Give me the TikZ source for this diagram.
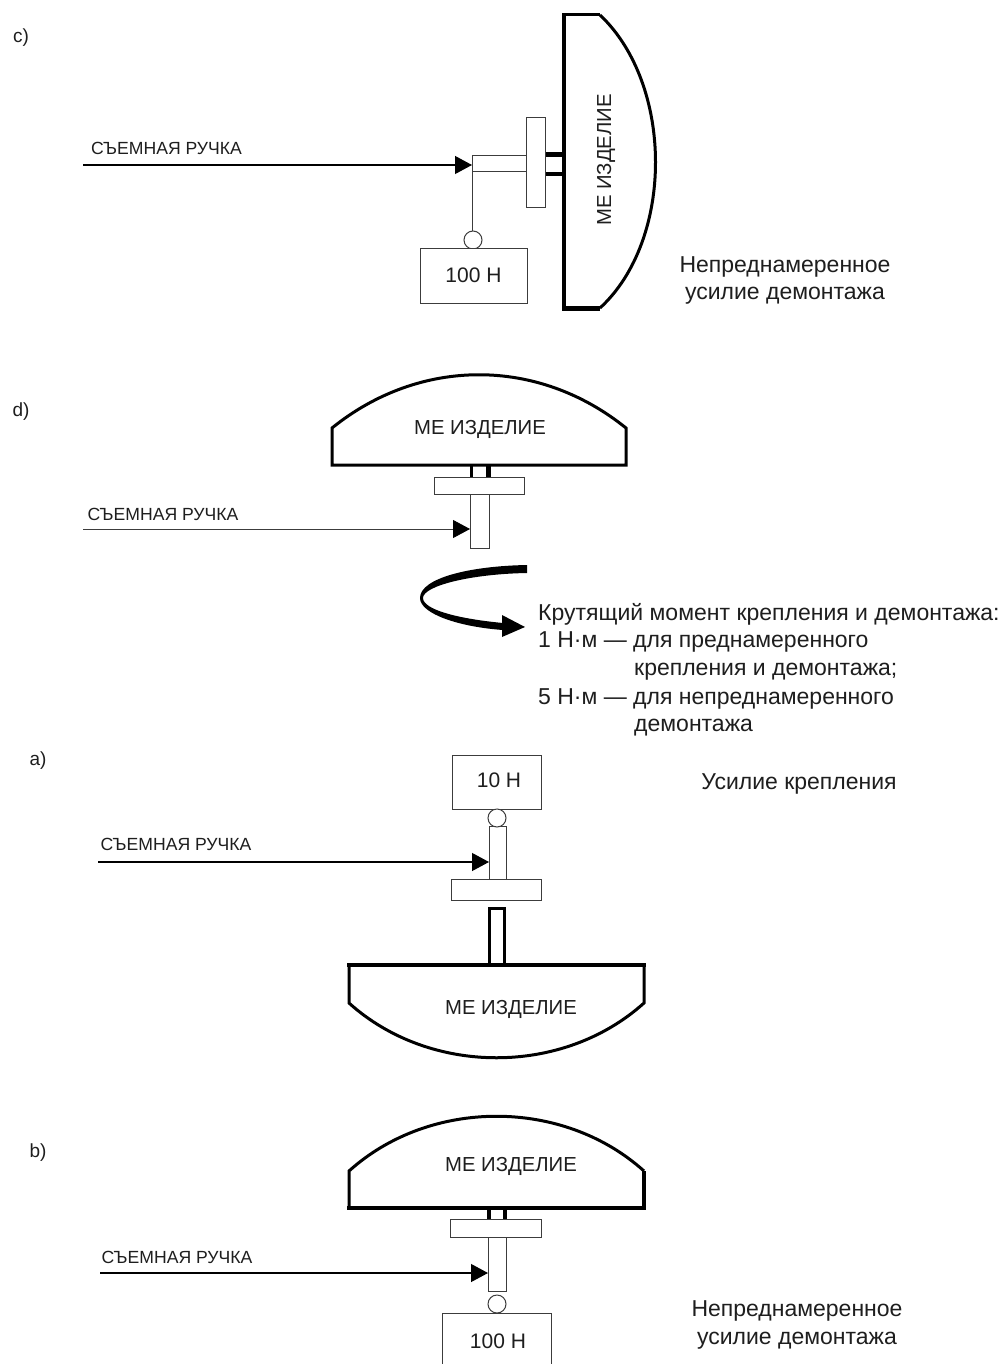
\documentclass[tikz,border=0pt]{standalone}
\usepackage{fontspec}
\setmainfont{Liberation Sans}
\usetikzlibrary{arrows.meta}
\definecolor{ink}{HTML}{1E1E1E}
\definecolor{soft}{HTML}{3C3C3C}
\tikzset{
  part/.style={draw=soft,line width=0.9pt,fill=white,inner sep=0pt,outer sep=0pt,text=ink,font=\fontsize{21}{24}\selectfont},
  hinge/.style={circle,draw=soft,line width=1pt,fill=white,minimum size=18pt,inner sep=0pt,outer sep=0pt},
  body/.style={draw=black,line width=3pt,line join=miter},
  heavy/.style={draw=black,line width=4.5pt},
  stub/.style={draw=black,line width=3pt},
  label/.style={text=ink,font=\fontsize{17.6}{20}\selectfont,inner sep=0pt},
  device/.style={text=ink,font=\fontsize{20.3}{24}\selectfont,inner sep=0pt},
  note/.style={text=ink,font=\fontsize{23}{26}\selectfont,inner sep=0pt},
  tag/.style={text=ink,font=\fontsize{19}{22}\selectfont,inner sep=0pt},
  pointer/.style={draw=black,line width=1.2pt,-{Triangle[length=17pt,width=18pt]}},
  pointerthin/.style={draw=soft,line width=0.8pt,-{Triangle[length=17pt,width=18pt,color=black,fill=black]}}
}
\begin{document}
\begin{tikzpicture}[x=1pt,y=-1pt]
\useasboundingbox (0,0) rectangle (1006,1364);
\fill[white] (0,0) rectangle (1006,1364);

% ---------- panel c
\node[tag] (tc) at (21,38) {c)};
\draw[line width=3pt] (600,15) .. controls (674,85) and (674,240) .. (600,308);
\draw[line width=3pt] (564,15) -- (600,15);
\draw[line width=5pt] (564,308) -- (600,308);
\draw[line width=4.5pt] (564,13.5) -- (564,310.5);
\draw[stub,line width=5pt] (545,154.5) -- (563,154.5);
\draw[stub,line width=4.5pt] (545,174) -- (563,174);
\node[part,minimum width=54pt,minimum height=16pt] (rodc) at (499,163) {};
\node[part,minimum width=19pt,minimum height=90pt] (platec) at (535.5,162) {};
\node[hinge] (hingec) at (473,240) {};
\node[part,minimum width=107pt,minimum height=55pt] (boxc) at (473.5,275.5) {100 Н};
\draw[draw=soft,line width=0.9pt] (rodc.south west) -- (rodc.south west |- hingec.north);
\coordinate (startc) at (83,165);
\coordinate (endc) at (472,165);
\draw[pointer] (startc) -- (endc);
\node[label] (handlec) at (166.5,148) {СЪЕМНАЯ РУЧКА};
\node[device,rotate=90] (devc) at (606,160) {МЕ ИЗДЕЛИЕ};
\node[note] (nc1) at (785,267) {Непреднамеренное};
\node[note] (nc2) at (785,296) {усилие демонтажа};

% ---------- panel d
\node[tag] (td) at (21,412) {d)};
\draw[body] (332,465) -- (332,428) .. controls (420,357) and (538,357) .. (626,428) -- (626,465) -- cycle;
\draw[stub,line width=3.5pt] (471.5,465) -- (471.5,478);
\draw[stub,line width=5pt] (488.5,465) -- (488.5,478);
\node[part,minimum width=90pt,minimum height=17pt] (plated) at (479,485.5) {};
\node[part,minimum width=19pt,minimum height=54pt] (rodd) at (479.5,521) {};
\coordinate (startd) at (83,529);
\coordinate (endd) at (470,529);
\draw[pointerthin] (startd) -- (endd);
\node[label] (handled) at (163,514) {СЪЕМНАЯ РУЧКА};
\node[device] (devd) at (480,429) {МЕ ИЗДЕЛИЕ};
\fill[black] (527,565) .. controls (470,566) and (420,578) .. (420,598)
  .. controls (420,614) and (460,627) .. (503,630)
  -- (503,623) .. controls (460,619) and (423,610) .. (423,598)
  .. controls (423,586) and (470,574) .. (527,573) -- cycle;
\fill[black] (502,615) -- (525,627) -- (502,637) -- cycle;
\node[note,anchor=west] (nd1) at (538,614) {Крутящий момент крепления и демонтажа:};
\node[note,anchor=west] (nd2) at (538,642) {1 Н·м — для преднамеренного};
\node[note,anchor=west] (nd3) at (634,672) {крепления и демонтажа;};
\node[note,anchor=west] (nd4) at (538,699) {5 Н·м — для непреднамеренного};
\node[note,anchor=west] (nd5) at (634,728) {демонтажа};

% ---------- panel a
\node[tag] (ta) at (38,761) {a)};
\node[part,minimum width=89pt,minimum height=54pt] (boxa) at (496.5,782) {\hspace*{5pt}\raisebox{4pt}{10 Н}};
\node[part,minimum width=17pt,minimum height=53pt] (roda) at (497.5,852.5) {};
\node[hinge] (hingea) at (497,818) {};
\node[part,minimum width=90pt,minimum height=21pt] (platea) at (496,889.5) {};
\draw[stub] (489.5,963) -- (489.5,908) -- (504.5,908) -- (504.5,963);
\draw[body] (349,965) -- (349,1003) .. controls (430,1076) and (563,1076) .. (644,1003) -- (644,965);
\draw[heavy] (347,965) -- (646,965);
\coordinate (starta) at (98,862);
\coordinate (enda) at (489,862);
\draw[pointer] (starta) -- (enda);
\node[label] (handlea) at (176,844) {СЪЕМНАЯ РУЧКА};
\node[device] (deva) at (511,1009) {МЕ ИЗДЕЛИЕ};
\node[note] (na1) at (799,784) {Усилие крепления};

% ---------- panel b
\node[tag] (tb) at (38,1153) {b)};
\draw[body] (349,1208) -- (349,1171) .. controls (430,1098) and (563,1098) .. (644,1171);
\draw[heavy] (644,1171) -- (644,1208);
\draw[heavy] (347,1208) -- (646,1208);
\draw[stub,line width=4pt] (488.5,1208) -- (488.5,1219);
\draw[stub,line width=4pt] (505,1208) -- (505,1219);
\node[part,minimum width=91pt,minimum height=18pt] (plateb) at (495.5,1228) {};
\node[part,minimum width=18pt,minimum height=54pt] (rodb) at (497,1264) {};
\node[hinge] (hingeb) at (497,1304) {};
\draw[draw=soft,line width=0.9pt,fill=white] (442,1366) -- (442,1313) -- (551,1313) -- (551,1366);
\node[part,draw=none,fill=none] (boxb) at (498,1341) {100 Н};
\coordinate (startb) at (100,1273);
\coordinate (endb) at (488,1273);
\draw[pointer] (startb) -- (endb);
\node[label] (handleb) at (177,1257) {СЪЕМНАЯ РУЧКА};
\node[device] (devb) at (511,1166) {МЕ ИЗДЕЛИЕ};
\node[note] (nb1) at (797,1311) {Непреднамеренное};
\node[note] (nb2) at (797,1341) {усилие демонтажа};
\end{tikzpicture}
\end{document}
